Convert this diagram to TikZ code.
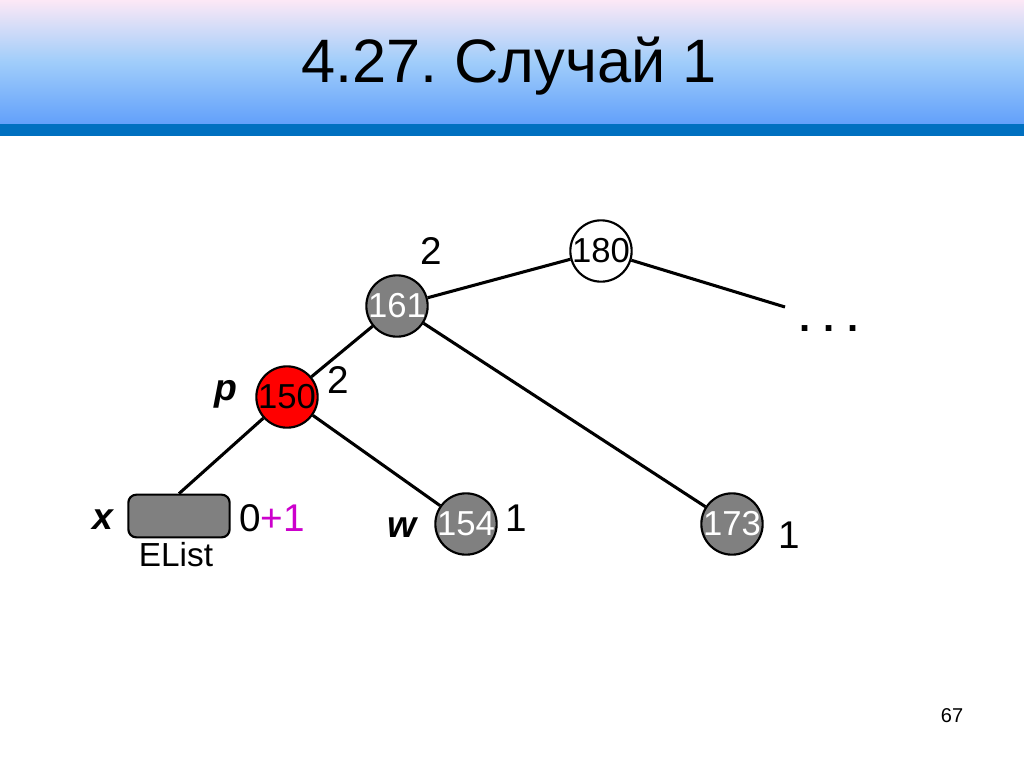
\documentclass[tikz,border=0pt]{standalone}
\usepackage{fontspec}
\setmainfont{Liberation Sans}
\usepackage{tikz}
\definecolor{barblue}{RGB}{0,112,192}
\definecolor{topink}{RGB}{252,232,246}
\definecolor{midblue}{RGB}{160,205,250}
\definecolor{lowblue}{RGB}{98,160,250}
\definecolor{plusmag}{RGB}{204,0,204}

\begin{document}
\begin{tikzpicture}[x=0.75pt, y=-0.75pt,
  vert/.style={circle, draw=black, line width=1.6pt, minimum size=46pt, inner sep=-10pt, font=\fontsize{26}{26}\selectfont},
  grayvert/.style={vert, fill=gray, text=white},
  lbl/.style={font=\fontsize{29}{29}\selectfont},
  ptrname/.style={font=\fontsize{28}{28}\selectfont\bfseries\itshape},
  link/.style={line width=2.3pt}]
\useasboundingbox (0,0) rectangle (1024,768);

\shade[top color=topink, bottom color=lowblue, middle color=midblue] (0,0) rectangle (1024,124);
\fill[barblue] (0,124) rectangle (1024,136);
\node[font=\fontsize{46}{46}\selectfont] (title) at (509,66) {4.27.\ Случай 1};

\node[vert, fill=white] (n180) at (601,251) {180};
\node[grayvert] (n161) at (397,306) {161};
\node[vert, fill=red] (n150) at (287,397) {150};
\node[grayvert] (n154) at (466,524) {154};
\node[grayvert] (n173) at (732,524) {173};
\node[draw=black, line width=1.6pt, fill=gray, rounded corners=6pt, minimum width=76pt, minimum height=32pt] (elist) at (179,516) {};
\coordinate (more) at (785,307);

\draw[link] (n161) -- (n180);
\draw[link] (n180) -- (more);
\draw[link] (n161) -- (n150);
\draw[link] (n161) -- (n173);
\draw[link] (n150) -- (n154);
\draw[link] (n150) -- (elist.north);

\node[lbl] (h161) at (431,251) {2};
\node[lbl] (h150) at (338,380) {2};
\node[lbl] (h154) at (516,518) {1};
\node[lbl] (h173) at (789,535) {1};
\node[lbl] (hx) at (272,518) {0\textcolor{plusmag}{+1}};
\node[font=\fontsize{25}{25}\selectfont] (elabel) at (176,555) {EList};
\node[font=\fontsize{30}{30}\selectfont\bfseries] (dots) at (829,329) {.\,\,.\,\,.};

\node[ptrname] (p) at (226,394) {p};
\node[ptrname] (x) at (103,520) {x};
\node[ptrname] (w) at (402,528) {w};

\node[font=\fontsize{15}{15}\selectfont] (page) at (952,716) {67};
\end{tikzpicture}
\end{document}
